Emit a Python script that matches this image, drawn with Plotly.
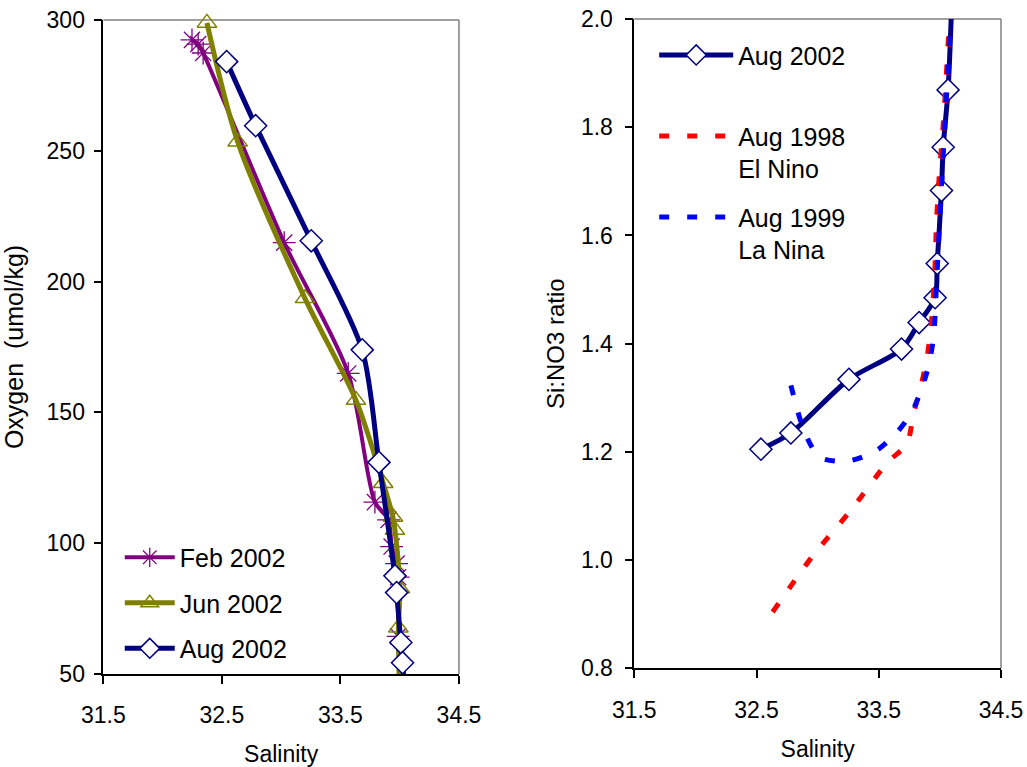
import plotly.graph_objects as go

# ---- Oxygen vs salinity profiles (left panel) ----
feb_sal = [32.248, 32.300, 32.342, 33.026, 33.566, 33.791, 33.906, 33.932, 33.974, 33.987, 33.987, 34.02]
feb_oxy = [292.4, 290.8, 287.4, 214.9, 164.9, 115.7, 108.9, 98.7, 92.2, 87.0, 64.4, 40.0]

jun_sal = [32.374, 32.633, 33.201, 33.631, 33.861, 33.943, 33.960, 34.002, 33.989, 34.00]
jun_oxy = [298.9, 253.5, 193.6, 154.7, 122.9, 110.0, 105.0, 82.7, 67.7, 40.0]

aug_sal = [32.540, 32.785, 33.254, 33.684, 33.825, 33.960, 33.974, 34.010, 34.024, 34.05]
aug_oxy = [284.1, 259.6, 215.6, 173.9, 130.9, 87.5, 81.1, 62.0, 54.3, 40.0]

# ---- Si:NO3 ratio vs salinity (right panel) ----
aug02_sal = [32.536, 32.781, 33.256, 33.686, 33.830, 33.961, 33.978, 34.013, 34.027, 34.067, 34.10]
aug02_ratio = [1.205, 1.235, 1.334, 1.390, 1.439, 1.485, 1.548, 1.683, 1.763, 1.869, 2.05]

aug98_sal = [32.632, 32.951, 33.278, 33.573, 33.728, 33.785, 33.851, 33.900, 33.932,
             33.957, 33.973, 33.998, 34.030, 34.079, 34.09]
aug98_ratio = [0.904, 1.005, 1.094, 1.181, 1.214, 1.271, 1.327, 1.382, 1.443,
               1.527, 1.628, 1.721, 1.813, 2.000, 2.04]

aug99_sal = [32.781, 32.854, 32.911, 33.018, 33.247, 33.484, 33.648, 33.770, 33.852,
             33.909, 33.950, 33.966, 33.990, 34.015, 34.048, 34.088, 34.10]
aug99_ratio = [1.323, 1.262, 1.227, 1.190, 1.183, 1.203, 1.236, 1.273, 1.318,
               1.360, 1.416, 1.480, 1.591, 1.702, 1.832, 2.000, 2.04]

sal_ticks = [31.5, 32.5, 33.5, 34.5]
oxy_range = [50, 300]
ratio_range = [0.8, 2.0]

FONT = "Liberation Sans, Arial, sans-serif"
PURPLE, OLIVE, NAVY = "#800080", "#808000", "#000080"
MS = 15


def sizes(vals, lo, hi, s):
    # hide markers for points that fall outside the visible axis range
    return [s if lo <= v <= hi else 0 for v in vals]


fig = go.Figure()

fig.add_trace(go.Scatter(
    x=feb_sal, y=feb_oxy, name="Feb 2002", mode="lines+markers",
    line=dict(color=PURPLE, width=4, shape="spline", smoothing=0.8),
    marker=dict(symbol="asterisk-open", size=sizes(feb_oxy, *oxy_range, MS + 4), opacity=1,
                line=dict(color=PURPLE, width=1.3)),
    cliponaxis=False, legend="legend", legendgroup="g1", xaxis="x", yaxis="y"))
fig.add_trace(go.Scatter(
    x=jun_sal, y=jun_oxy, name="Jun 2002", mode="lines+markers",
    line=dict(color=OLIVE, width=5, shape="spline", smoothing=0.8),
    marker=dict(symbol="triangle-up-open", size=sizes(jun_oxy, *oxy_range, MS + 2), opacity=1,
                color=OLIVE, line=dict(color=OLIVE, width=1.5)),
    cliponaxis=False, legend="legend", legendgroup="g2", xaxis="x", yaxis="y"))
fig.add_trace(go.Scatter(
    x=aug_sal, y=aug_oxy, name="Aug 2002", mode="lines+markers",
    line=dict(color=NAVY, width=5, shape="spline", smoothing=0.8),
    marker=dict(symbol="diamond", size=sizes(aug_oxy, *oxy_range, MS + 2), color="white",
                opacity=1, line=dict(color=NAVY, width=1.5)),
    cliponaxis=False, legend="legend", legendgroup="g3", xaxis="x", yaxis="y"))

fig.add_trace(go.Scatter(
    x=aug02_sal, y=aug02_ratio, name="Aug 2002<br>\u00a0", mode="lines+markers",
    line=dict(color=NAVY, width=5, shape="spline", smoothing=0.8),
    marker=dict(symbol="diamond", size=sizes(aug02_ratio, *ratio_range, MS + 2), color="white",
                opacity=1, line=dict(color=NAVY, width=1.5)),
    cliponaxis=False, legend="legend2", legendgroup="h1", xaxis="x2", yaxis="y2"))
fig.add_trace(go.Scatter(
    x=aug98_sal, y=aug98_ratio, name="Aug 1998<br>El Nino", mode="lines",
    line=dict(color="#FF0000", width=5, dash="10px,18px", shape="spline", smoothing=0.8),
    legend="legend2", legendgroup="h2", xaxis="x2", yaxis="y2"))
fig.add_trace(go.Scatter(
    x=aug99_sal, y=aug99_ratio, name="Aug 1999<br>La Nina", mode="lines",
    line=dict(color="#0000FF", width=5, dash="10px,18px", shape="spline", smoothing=0.8),
    legend="legend2", legendgroup="h3", xaxis="x2", yaxis="y2"))

axis_common = dict(
    showline=True, linecolor="black", linewidth=1.5, showgrid=False, zeroline=False,
    ticks="outside", ticklen=8, tickcolor="black", tickwidth=1.5, automargin=False,
    tickfont=dict(family=FONT, size=23, color="black"),
)

fig.update_layout(
    width=1027, height=767,
    margin=dict(l=0, r=0, t=0, b=0),
    paper_bgcolor="white", plot_bgcolor="white",
    font=dict(family=FONT, size=23, color="black"),
    showlegend=True,
    xaxis=dict(domain=[0.1006, 0.4469], range=[31.5, 34.5], tickvals=sal_ticks,
               ticklabelstandoff=12, anchor="y",
               title=dict(text="Salinity", standoff=19, font=dict(family=FONT, size=23)),
               **axis_common),
    yaxis=dict(domain=[0.1213, 0.9739], range=oxy_range, dtick=50, anchor="x",
               ticklabelstandoff=4,
               title=dict(text="Oxygen\u00a0 (umol/kg)", standoff=16, font=dict(family=FONT, size=25)),
               **axis_common),
    xaxis2=dict(domain=[0.6176, 0.9747], range=[31.5, 34.5], tickvals=sal_ticks,
                ticklabelstandoff=12, anchor="y2",
                title=dict(text="Salinity", standoff=19, font=dict(family=FONT, size=23)),
                **axis_common),
    yaxis2=dict(domain=[0.1287, 0.9752], range=ratio_range, dtick=0.2, tickformat=".1f",
                anchor="x2", ticklabelstandoff=7,
                title=dict(text="Si:NO3 ratio", standoff=10, font=dict(family=FONT, size=24)),
                **axis_common),
    legend=dict(x=0.1166, y=0.303, xanchor="left", yanchor="top", bgcolor="rgba(0,0,0,0)",
                font=dict(family=FONT, size=25), itemwidth=50, tracegroupgap=10,
                traceorder="grouped"),
    legend2=dict(x=0.637, y=0.958, xanchor="left", yanchor="top", bgcolor="rgba(0,0,0,0)",
                 font=dict(family=FONT, size=25), itemwidth=74, tracegroupgap=13,
                 traceorder="grouped", valign="top"),
)

# gray frame on the top and right of each plot area
for xr, yr in (("x domain", "y domain"), ("x2 domain", "y2 domain")):
    fig.add_shape(type="line", xref=xr, yref=yr, x0=0, x1=1, y0=1, y1=1,
                  line=dict(color="#808080", width=1.5), layer="below")
    fig.add_shape(type="line", xref=xr, yref=yr, x0=1, x1=1, y0=0, y1=1,
                  line=dict(color="#808080", width=1.5), layer="below")

fig.write_html("out.html")
